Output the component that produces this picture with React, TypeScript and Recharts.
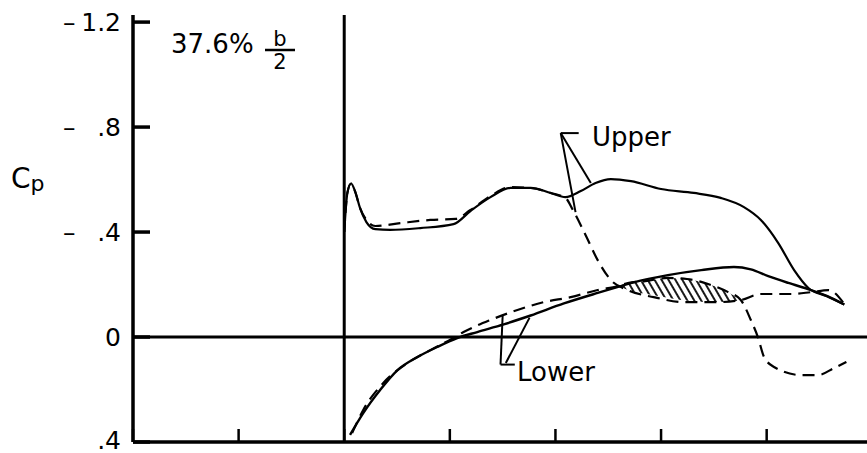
import React from 'react';
import { ComposedChart, Line, Area, XAxis, YAxis, ReferenceLine } from 'recharts';

// ---- axis ticks ----
const xTicks = [-0.4, -0.2, 0, 0.2, 0.4, 0.6, 0.8];
const yTicks = [-1.2, -0.8, -0.4, 0, 0.4];
const yTickSign = ['–', '–', '–', '', ''];
const yTickText = ['1.2', '.8', '.4', '0', '.4'];

// ---- Upper surface, solid ----
const upperSolidX = [0.0, 0.006, 0.013, 0.021, 0.030, 0.042, 0.059, 0.087, 0.144, 0.207, 0.239, 0.277, 0.315, 0.353, 0.391, 0.419, 0.448, 0.476, 0.505, 0.543, 0.600, 0.662, 0.713, 0.757, 0.789, 0.822, 0.852, 0.879, 0.913, 0.947];
const upperSolidCp = [-0.40, -0.55, -0.585, -0.552, -0.491, -0.438, -0.411, -0.408, -0.415, -0.430, -0.480, -0.533, -0.568, -0.568, -0.549, -0.533, -0.556, -0.587, -0.602, -0.594, -0.564, -0.549, -0.530, -0.495, -0.446, -0.358, -0.255, -0.187, -0.156, -0.124];

// ---- Upper surface, dashed ----
const upperDashX = [0.0, 0.006, 0.013, 0.021, 0.030, 0.042, 0.059, 0.106, 0.163, 0.211, 0.239, 0.277, 0.315, 0.353, 0.391, 0.419, 0.433, 0.457, 0.480, 0.505, 0.537, 0.586, 0.643, 0.708, 0.751, 0.789, 0.846, 0.884, 0.917, 0.947];
const upperDashCp = [-0.40, -0.55, -0.585, -0.552, -0.491, -0.446, -0.423, -0.434, -0.446, -0.450, -0.484, -0.537, -0.571, -0.568, -0.549, -0.530, -0.484, -0.389, -0.293, -0.217, -0.179, -0.152, -0.133, -0.133, -0.141, -0.164, -0.164, -0.171, -0.179, -0.126];

// ---- Lower surface, solid ----
const lowerSolidX = [0.011, 0.036, 0.068, 0.101, 0.139, 0.176, 0.214, 0.252, 0.302, 0.353, 0.416, 0.480, 0.524, 0.548, 0.613, 0.676, 0.738, 0.770, 0.803, 0.841, 0.884, 0.915, 0.947];
const lowerSolidCp = [0.373, 0.290, 0.202, 0.126, 0.076, 0.038, 0.004, -0.019, -0.048, -0.082, -0.128, -0.168, -0.194, -0.208, -0.236, -0.255, -0.267, -0.258, -0.232, -0.206, -0.179, -0.156, -0.124];

// ---- Lower surface, dashed ----
const lowerDashX = [0.015, 0.036, 0.074, 0.120, 0.163, 0.201, 0.226, 0.277, 0.328, 0.378, 0.429, 0.480, 0.520, 0.537, 0.570, 0.613, 0.649, 0.676, 0.689, 0.727, 0.751, 0.770, 0.784, 0.795, 0.814, 0.865, 0.897, 0.928, 0.951];
const lowerDashCp = [0.366, 0.278, 0.175, 0.099, 0.050, 0.010, -0.019, -0.065, -0.103, -0.133, -0.152, -0.179, -0.195, -0.206, -0.213, -0.225, -0.221, -0.210, -0.202, -0.171, -0.141, -0.065, 0.004, 0.076, 0.114, 0.145, 0.145, 0.118, 0.095];

// ---- Hatched region (between dashed lower and dashed upper) ----
const hatchX = [0.52, 0.537, 0.57, 0.613, 0.649, 0.676, 0.689, 0.727, 0.751];
const hatchTop = [-0.195, -0.206, -0.213, -0.225, -0.221, -0.210, -0.202, -0.171, -0.141];
const hatchBottom = [-0.195, -0.179, -0.165, -0.150, -0.138, -0.134, -0.133, -0.134, -0.141];

// ---- annotation leaders (data coordinates) ----
const upperLeaderCorner = { x: 0.41, y: -0.777 };
const upperLeaderEnd = { x: 0.444, y: -0.777 };
const upperLeaderSolid = { x: 0.467, y: -0.587 };
const upperLeaderDash = { x: 0.438, y: -0.476 };
const lowerLeaderCorner = { x: 0.296, y: 0.105 };
const lowerLeaderEnd = { x: 0.323, y: 0.105 };
const lowerLeaderDash = { x: 0.300, y: -0.08 };
const lowerLeaderSolidStart = { x: 0.306, y: 0.099 };
const lowerLeaderSolid = { x: 0.351, y: -0.074 };

const toData = (xs: number[], ys: number[]) => xs.map((x, i) => ({ x, cp: ys[i] }));
const upperSolid = toData(upperSolidX, upperSolidCp);
const upperDash = toData(upperDashX, upperDashCp);
const lowerSolid = toData(lowerSolidX, lowerSolidCp);
const lowerDash = toData(lowerDashX, lowerDashCp);
const hatch = hatchX.map((x, i) => ({ x, range: [hatchBottom[i], hatchTop[i]] }));

const FONT = '"DejaVu Sans", sans-serif';

const YTick = (props: any) => {
  const { x, y, payload } = props;
  const i = yTicks.indexOf(payload.value);
  const dy = i === yTicks.length - 1 ? -2 : 0;
  return (
    <g>
      <path d={`M${x},${y}H${x + 17}`} stroke="#000" strokeWidth={3.5} fill="none" />
      {yTickSign[i] ? (
        <text x={x - 70} y={y} dy="0.35em" fontSize={25} fontFamily={FONT} fill="#000">{yTickSign[i]}</text>
      ) : null}
      <text x={x - 12} y={y + dy} dy="0.36em" textAnchor="end" fontSize={25} fontFamily={FONT} fill="#000">{yTickText[i]}</text>
    </g>
  );
};

const XTick = (props: any) => {
  const { x, y } = props;
  return <line x1={x} y1={y} x2={x} y2={y - 13} stroke="#000" strokeWidth={2.5} />;
};

const seg = (a: { x: number; y: number }, b: { x: number; y: number }) => [a, b];

export default function App() {
  return (
    <div style={{ position: 'absolute', left: 0, top: 0, width: 867, height: 453, background: '#fff' }}>
      <ComposedChart width={867} height={453} margin={{ top: 15, right: 0, left: 0, bottom: 0 }}>
        <defs>
          <pattern id="hatch" patternUnits="userSpaceOnUse" width="6" height="6" patternTransform="rotate(-30)">
            <line x1="1" y1="0" x2="1" y2="6" stroke="#000" strokeWidth="1.8" />
          </pattern>
        </defs>
        <XAxis type="number" dataKey="x" domain={[-0.4, 0.99]} ticks={xTicks} height={11} allowDataOverflow
          axisLine={{ stroke: '#000', strokeWidth: 3.5 }} tickLine={false} tickSize={0} tickMargin={0} tick={<XTick />} />
        <YAxis type="number" domain={[-1.227, 0.4]} reversed ticks={yTicks} width={133} allowDataOverflow
          axisLine={{ stroke: '#000', strokeWidth: 3.5 }} tickLine={false} tickSize={0} tickMargin={0} tick={<YTick />} />
        <ReferenceLine y={0} stroke="#000" strokeWidth={3} />
        <ReferenceLine x={0} stroke="#000" strokeWidth={3} />
        <Area data={hatch} dataKey="range" type="monotone" stroke="none" fill="url(#hatch)" fillOpacity={1} isAnimationActive={false} />
        <Line data={upperSolid} dataKey="cp" type="monotone" stroke="#000" strokeWidth={2.2} dot={false} isAnimationActive={false} />
        <Line data={upperDash} dataKey="cp" type="monotone" stroke="#000" strokeWidth={2.2} strokeDasharray="12 7" dot={false} isAnimationActive={false} />
        <Line data={lowerSolid} dataKey="cp" type="monotone" stroke="#000" strokeWidth={2.4} dot={false} isAnimationActive={false} />
        <Line data={lowerDash} dataKey="cp" type="monotone" stroke="#000" strokeWidth={2.2} strokeDasharray="12 7" dot={false} isAnimationActive={false} />
        <ReferenceLine segment={seg(upperLeaderCorner, upperLeaderEnd)} stroke="#000" strokeWidth={2} />
        <ReferenceLine segment={seg(upperLeaderCorner, upperLeaderSolid)} stroke="#000" strokeWidth={2} />
        <ReferenceLine segment={seg(upperLeaderCorner, upperLeaderDash)} stroke="#000" strokeWidth={2} />
        <ReferenceLine segment={seg(lowerLeaderCorner, lowerLeaderEnd)} stroke="#000" strokeWidth={2} />
        <ReferenceLine segment={seg(lowerLeaderCorner, lowerLeaderDash)} stroke="#000" strokeWidth={2} />
        <ReferenceLine segment={seg(lowerLeaderSolidStart, lowerLeaderSolid)} stroke="#000" strokeWidth={2} />
        <text x={592} y={146} fontSize={26} fontFamily={FONT} fill="#000">Upper</text>
        <text x={517} y={381} fontSize={26} fontFamily={FONT} fill="#000">Lower</text>
        <text x={11} y={188} fontSize={28} fontFamily={FONT} fill="#000">C<tspan fontSize={22} dy={3}>p</tspan></text>
        <text x={171} y={53} fontSize={26} fontFamily={FONT} fill="#000">37.6%</text>
        <text x={280} y={46} fontSize={21} fontFamily={FONT} textAnchor="middle" fill="#000">b</text>
        <line x1={265} y1={50} x2={295} y2={50} stroke="#000" strokeWidth={2.5} />
        <text x={280} y={69} fontSize={21} fontFamily={FONT} textAnchor="middle" fill="#000">2</text>
      </ComposedChart>
    </div>
  );
}
